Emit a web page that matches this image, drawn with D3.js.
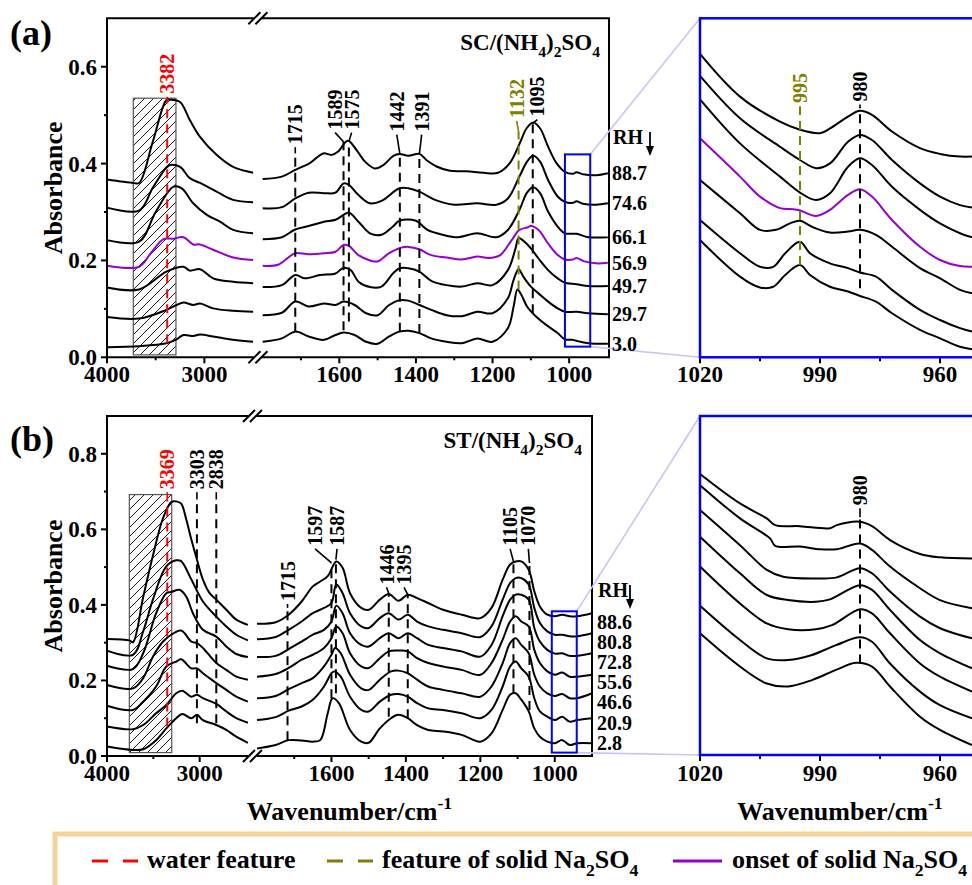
<!DOCTYPE html>
<html>
<head>
<meta charset="utf-8">
<script src="https://cdn.jsdelivr.net/npm/d3@7"></script>
<style>
  body { margin: 0; background: #fff; }
  svg { display: block; font-family: "Liberation Serif", "Times New Roman", serif; font-weight: bold; }
</style>
</head>
<body>
<div id="chart"></div>
<script>

// RH labels, top curve first
var rhA = ["88.7", "74.6", "66.1", "56.9", "49.7", "29.7", "3.0"];
var rhB = ["88.6", "80.8", "72.8", "55.6", "46.6", "20.9", "2.8"];

// panel (a) SC/(NH4)2SO4, 4000-2500 cm-1
var aHigh = [
  [[4000,.367],[3730,.360],[3670,.360],[3530,.445],[3390,.531],[3350,.532],[3250,.527],[3150,.490],[3045,.455],[2875,.418],[2705,.393],[2500,.381]],
  [[4000,.309],[3670,.303],[3530,.350],[3390,.392],[3350,.397],[3250,.393],[3150,.370],[3045,.360],[2875,.342],[2705,.325],[2500,.320]],
  [[4000,.242],[3670,.239],[3500,.300],[3320,.352],[3233,.349],[3115,.318],[2975,.294],[2840,.280],[2705,.263],[2500,.256]],
  [[4000,.189],[3670,.187],[3550,.215],[3420,.244],[3320,.245],[3215,.248],[3115,.233],[3045,.233],[2910,.222],[2705,.206],[2500,.201]],
  [[4000,.144],[3670,.140],[3390,.177],[3215,.187],[3150,.179],[3045,.182],[2910,.163],[2705,.156],[2500,.153]],
  [[4000,.083],[3670,.080],[3390,.098],[3285,.108],[3215,.113],[3115,.108],[3045,.111],[2910,.101],[2705,.096],[2500,.094]],
  [[4000,.021],[3670,.023],[3390,.029],[3285,.037],[3215,.046],[3115,.044],[3045,.047],[2910,.043],[2705,.036],[2500,.032]]
];

// panel (a), 1800-900 cm-1
var aLow = [
  [[1800,.368],[1750,.373],[1715,.387],[1677,.401],[1642,.421],[1620,.418],[1603,.425],[1578,.447],[1555,.428],[1533,.404],[1507,.390],[1485,.397],[1459,.416],[1443,.420],[1420,.416],[1391,.420],[1372,.407],[1346,.394],[1311,.385],[1268,.384],[1224,.381],[1186,.381],[1155,.401],[1129,.442],[1111,.473],[1094,.485],[1076,.473],[1055,.435],[1033,.401],[1011,.383],[990,.379],[981,.382],[964,.378],[929,.376],[899,.380]],
  [[1800,.308],[1750,.310],[1715,.328],[1680,.340],[1640,.339],[1610,.340],[1589,.359],[1575,.356],[1550,.335],[1520,.318],[1490,.323],[1443,.349],[1420,.349],[1391,.342],[1350,.325],[1300,.315],[1240,.318],[1190,.315],[1160,.328],[1130,.373],[1110,.404],[1094,.416],[1076,.404],[1055,.366],[1030,.332],[1011,.321],[990,.319],[981,.322],[964,.317],[930,.315],[899,.318]],
  [[1800,.244],[1750,.248],[1715,.264],[1680,.271],[1640,.280],[1610,.284],[1589,.294],[1575,.299],[1550,.280],[1520,.256],[1490,.253],[1460,.270],[1443,.282],[1400,.282],[1370,.263],[1330,.253],[1290,.248],[1240,.256],[1190,.248],[1160,.263],[1130,.304],[1110,.340],[1094,.351],[1076,.339],[1055,.301],[1030,.270],[1011,.256],[981,.255],[950,.248],[899,.248]],
  [[1800,.189],[1760,.191],[1730,.208],[1715,.215],[1680,.213],[1640,.215],[1610,.218],[1589,.232],[1575,.230],[1550,.211],[1520,.200],[1500,.198],[1470,.215],[1440,.226],[1420,.228],[1391,.223],[1360,.211],[1320,.206],[1280,.202],[1240,.208],[1210,.205],[1180,.211],[1150,.242],[1130,.263],[1110,.268],[1100,.271],[1080,.263],[1055,.235],[1030,.211],[1011,.202],[990,.202],[981,.205],[960,.198],[930,.194],[899,.195]],
  [[1800,.145],[1750,.149],[1715,.170],[1690,.163],[1650,.170],[1610,.173],[1589,.185],[1570,.180],[1550,.156],[1520,.145],[1490,.146],[1460,.173],[1443,.184],[1420,.184],[1391,.177],[1360,.158],[1320,.149],[1280,.146],[1240,.153],[1200,.149],[1160,.180],[1140,.225],[1132,.246],[1120,.241],[1100,.225],[1080,.204],[1055,.180],[1030,.163],[1011,.154],[981,.151],[950,.147],[899,.147]],
  [[1800,.087],[1750,.092],[1715,.115],[1680,.105],[1640,.111],[1610,.108],[1589,.115],[1560,.108],[1530,.091],[1500,.087],[1470,.108],[1443,.118],[1420,.117],[1391,.108],[1360,.098],[1320,.087],[1280,.085],[1240,.094],[1200,.091],[1160,.122],[1145,.160],[1132,.182],[1120,.167],[1100,.146],[1080,.132],[1055,.115],[1030,.101],[1011,.094],[981,.094],[950,.091],[899,.089]],
  [[1800,.032],[1750,.039],[1715,.053],[1680,.043],[1640,.036],[1610,.046],[1589,.051],[1560,.046],[1530,.032],[1500,.028],[1470,.043],[1443,.053],[1420,.055],[1391,.050],[1360,.039],[1320,.032],[1280,.029],[1240,.039],[1200,.032],[1160,.060],[1145,.105],[1135,.140],[1125,.129],[1110,.105],[1090,.087],[1060,.067],[1030,.050],[1011,.037],[990,.036],[981,.034],[950,.029],[899,.028]]
];

// panel (a) zoom 1020-950 cm-1 (relative scale)
var aZoom = [
  [[1020,.895],[1010,.769],[1000,.695],[995,.671],[990,.661],[987.5,.675],[983,.710],[980,.727],[977,.715],[972,.666],[965,.617],[960,.600],[955,.592],[952,.592]],
  [[1020,.830],[1010,.705],[1000,.621],[995,.582],[991,.558],[987.5,.572],[983,.636],[980,.656],[977,.641],[972,.582],[965,.513],[960,.474],[955,.449],[952,.442]],
  [[1020,.761],[1010,.631],[1000,.533],[995,.486],[991,.464],[987.5,.484],[983,.562],[980,.587],[977,.567],[972,.503],[965,.435],[960,.395],[955,.366],[952,.354]],
  [[1020,.646],[1010,.533],[1005,.474],[1000,.440],[996.7,.437],[995,.433],[991,.417],[987.5,.435],[983,.479],[980,.496],[977,.474],[972,.405],[965,.326],[960,.287],[955,.269],[952,.267]],
  [[1020,.523],[1010,.425],[1005,.376],[1001,.376],[997.5,.395],[995,.403],[992,.385],[987.5,.368],[983,.371],[980,.376],[976,.361],[972,.326],[965,.263],[960,.233],[955,.199],[952,.189]],
  [[1020,.405],[1010,.307],[1005,.267],[1001.7,.267],[998.7,.307],[995,.341],[992.5,.307],[987.5,.277],[983,.263],[980,.250],[976,.238],[972,.199],[965,.140],[960,.110],[955,.086],[952,.076]],
  [[1020,.346],[1010,.238],[1005,.206],[1001.7,.208],[998.7,.243],[995,.272],[992.5,.243],[987.5,.208],[983,.194],[980,.181],[976,.164],[972,.130],[965,.081],[960,.056],[955,.031],[952,.024]]
];

// panel (b) ST/(NH4)2SO4, 4000-2480 cm-1
var bHigh = [
  [[4000,.310],[3760,.306],[3720,.301],[3610,.420],[3505,.530],[3395,.630],[3307,.672],[3253,.674],[3200,.668],[3145,.626],[3090,.573],[3030,.520],[2965,.467],[2893,.431],[2821,.414],[2713,.387],[2605,.361],[2480,.347]],
  [[4000,.279],[3720,.268],[3610,.330],[3505,.414],[3360,.502],[3253,.518],[3200,.516],[3090,.467],[2965,.409],[2821,.369],[2713,.343],[2605,.321],[2480,.306]],
  [[4000,.239],[3720,.230],[3610,.272],[3470,.378],[3360,.431],[3307,.434],[3217,.440],[3145,.422],[3073,.378],[2965,.334],[2821,.316],[2713,.290],[2605,.270],[2480,.262]],
  [[4000,.188],[3720,.179],[3610,.206],[3505,.263],[3395,.303],[3307,.321],[3200,.332],[3090,.303],[3030,.299],[2965,.286],[2821,.246],[2713,.228],[2605,.210],[2480,.202]],
  [[4000,.133],[3720,.122],[3610,.144],[3470,.184],[3360,.237],[3253,.250],[3200,.256],[3090,.232],[3030,.232],[2965,.219],[2821,.193],[2713,.175],[2605,.157],[2480,.144]],
  [[4000,.078],[3720,.071],[3610,.082],[3470,.113],[3360,.135],[3253,.166],[3188,.173],[3090,.157],[3030,.162],[2965,.153],[2821,.138],[2713,.118],[2605,.100],[2480,.088]],
  [[4000,.025],[3720,.016],[3610,.018],[3470,.042],[3360,.073],[3253,.100],[3188,.111],[3090,.100],[3030,.109],[2965,.095],[2821,.082],[2713,.069],[2605,.051],[2480,.035]]
];

// panel (b), 1800-900 cm-1
var bLow = [
  [[1800,.350],[1750,.354],[1715,.374],[1680,.409],[1650,.449],[1630,.462],[1610,.476],[1587,.515],[1570,.498],[1550,.431],[1520,.392],[1500,.387],[1470,.414],[1446,.429],[1420,.411],[1395,.427],[1370,.418],[1340,.405],[1300,.387],[1250,.374],[1200,.365],[1170,.392],[1140,.467],[1120,.507],[1105,.515],[1090,.515],[1070,.493],[1055,.436],[1040,.396],[1020,.374],[1000,.370],[980,.374],[960,.370],[940,.370],[900,.378]],
  [[1800,.309],[1750,.315],[1715,.334],[1680,.356],[1650,.378],[1620,.392],[1600,.405],[1587,.454],[1570,.431],[1550,.378],[1520,.343],[1500,.339],[1470,.365],[1446,.378],[1420,.361],[1395,.374],[1370,.356],[1340,.343],[1300,.334],[1250,.325],[1200,.315],[1170,.343],[1140,.414],[1120,.458],[1105,.471],[1090,.471],[1070,.454],[1055,.392],[1040,.352],[1020,.330],[1000,.321],[980,.321],[960,.317],[940,.317],[900,.325]],
  [[1800,.262],[1750,.265],[1715,.283],[1680,.303],[1650,.321],[1620,.334],[1600,.356],[1587,.398],[1570,.378],[1550,.325],[1520,.294],[1500,.290],[1470,.312],[1446,.325],[1420,.312],[1395,.325],[1370,.312],[1340,.294],[1300,.286],[1250,.277],[1200,.263],[1170,.294],[1140,.370],[1120,.414],[1105,.427],[1090,.427],[1070,.414],[1055,.339],[1040,.303],[1020,.281],[1000,.271],[980,.272],[960,.265],[940,.265],[900,.272]],
  [[1800,.210],[1750,.217],[1715,.233],[1680,.255],[1650,.268],[1620,.286],[1600,.312],[1587,.343],[1570,.325],[1550,.272],[1520,.237],[1500,.233],[1470,.259],[1446,.277],[1420,.279],[1395,.277],[1370,.259],[1340,.246],[1300,.237],[1250,.228],[1200,.215],[1170,.246],[1140,.308],[1120,.356],[1105,.370],[1090,.356],[1070,.343],[1055,.281],[1040,.246],[1020,.224],[1000,.215],[980,.221],[960,.210],[940,.210],[900,.215]],
  [[1800,.153],[1750,.159],[1715,.177],[1680,.193],[1650,.206],[1620,.237],[1600,.268],[1590,.286],[1575,.272],[1550,.215],[1520,.179],[1500,.175],[1470,.202],[1440,.224],[1420,.226],[1395,.219],[1370,.202],[1340,.184],[1300,.175],[1250,.166],[1200,.157],[1170,.184],[1140,.246],[1120,.299],[1105,.312],[1090,.294],[1070,.272],[1055,.215],[1040,.184],[1020,.166],[1000,.159],[980,.164],[960,.153],[940,.153],[900,.166]],
  [[1800,.095],[1750,.103],[1715,.120],[1680,.131],[1650,.149],[1620,.184],[1600,.219],[1592,.224],[1575,.210],[1550,.157],[1520,.122],[1500,.118],[1470,.144],[1440,.162],[1420,.164],[1395,.157],[1370,.140],[1340,.126],[1300,.122],[1250,.113],[1200,.100],[1170,.122],[1140,.184],[1120,.237],[1105,.250],[1090,.232],[1070,.210],[1055,.153],[1040,.118],[1020,.104],[1000,.095],[980,.104],[960,.091],[940,.095],[900,.100]],
  [[1800,.020],[1750,.029],[1715,.042],[1680,.041],[1650,.038],[1630,.042],[1610,.113],[1597,.153],[1580,.140],[1550,.069],[1520,.038],[1500,.035],[1470,.073],[1440,.100],[1420,.109],[1395,.100],[1370,.082],[1340,.069],[1300,.065],[1250,.056],[1200,.038],[1170,.060],[1140,.122],[1120,.162],[1105,.166],[1090,.149],[1070,.118],[1055,.073],[1040,.051],[1020,.038],[1000,.034],[980,.042],[960,.029],[940,.034],[900,.034]]
];

// panel (b) zoom 1020-950 cm-1 (relative scale)
var bZoom = [
  [[1020,.829],[1010,.742],[1003.3,.698],[1001.2,.678],[995,.675],[987.5,.669],[985.8,.678],[980,.688],[977,.675],[972.5,.634],[965,.593],[960,.583],[952,.580]],
  [[1020,.796],[1010,.698],[1002.5,.639],[1001.2,.617],[995,.615],[990,.607],[985.8,.607],[980,.624],[977,.605],[972.5,.556],[965,.492],[960,.457],[952,.433]],
  [[1020,.723],[1010,.619],[1003.3,.546],[999.2,.526],[990,.521],[985.8,.524],[980,.551],[977,.536],[972.5,.482],[965,.408],[960,.374],[952,.344]],
  [[1020,.644],[1010,.536],[1003.3,.472],[998,.457],[991,.452],[987.5,.459],[980,.501],[977,.487],[972.5,.428],[965,.339],[960,.300],[952,.256]],
  [[1020,.556],[1010,.447],[1003.3,.388],[998,.371],[991,.371],[987,.383],[980,.430],[977,.418],[972.5,.359],[965,.270],[960,.231],[952,.187]],
  [[1020,.440],[1010,.339],[1003.3,.285],[998,.280],[992,.295],[986,.324],[980,.347],[977,.334],[972.5,.270],[965,.187],[960,.147],[952,.108]],
  [[1020,.359],[1010,.261],[1003.3,.211],[998,.202],[992,.221],[986,.251],[981,.272],[977,.261],[972.5,.202],[965,.113],[960,.074],[952,.029]]
];

// band markers: at = line position, lab = text, lo/hi = dashed extent, top = label foot, lx = label position
var aMarkHigh = [
  {at: 3382, lab: "3382", lo: .029, hi: .531, top: .540, col: "red"}
];
var aMarkLow = [
  {at: 1715, lab: "1715", lo: .053, hi: .421, top: .436, col: "black"},
  {at: 1589, lab: "1589", lo: .056, hi: .445, top: .466, lx: 1611, col: "black"},
  {at: 1575, lab: "1575", lo: .074, hi: .445, top: .466, lx: 1568, col: "black"},
  {at: 1442, lab: "1442", lo: .053, hi: .420, top: .462, lx: 1450, col: "black"},
  {at: 1391, lab: "1391", lo: .050, hi: .420, top: .462, lx: 1385, col: "black"},
  {at: 1132, lab: "1132", lo: .140, hi: .466, top: .490, lx: 1137, col: "olive"},
  {at: 1095, lab: "1095", lo: .091, hi: .483, top: .493, lx: 1083, col: "black"}
];
var aMarkZoom = [
  {at: 995, lab: "995", lo: .272, hi: .739, top: .744, col: "olive"},
  {at: 980, lab: "980", lo: .204, hi: .739, top: .749, col: "black"}
];
var bMarkHigh = [
  {at: 3350, lab: "3369", lo: .078, hi: .679, top: .701, col: "red"},
  {at: 3030, lab: "3303", lo: .087, hi: .679, top: .701, col: "black"},
  {at: 2821, lab: "2838", lo: .087, hi: .679, top: .701, col: "black"}
];
var bMarkLow = [
  {at: 1718, lab: "1715", lo: .042, hi: .392, top: .405, col: "black"},
  {at: 1600, lab: "1597", lo: .153, hi: .511, top: .551, lx: 1644, col: "black"},
  {at: 1588, lab: "1587", lo: .166, hi: .520, top: .551, lx: 1585, col: "black"},
  {at: 1446, lab: "1446", lo: .104, hi: .431, top: .449, lx: 1452, col: "black"},
  {at: 1395, lab: "1395", lo: .100, hi: .427, top: .449, lx: 1405, col: "black"},
  {at: 1111, lab: "1105", lo: .166, hi: .515, top: .551, lx: 1120, col: "black"},
  {at: 1068, lab: "1070", lo: .122, hi: .511, top: .551, lx: 1071, col: "black"}
];
var bMarkZoom = [
  {at: 980, lab: "980", lo: .270, hi: .701, top: .731, col: "black"}
];

var colors = {red: "#ff0000", olive: "#808000", black: "#000000", purple: "#9400d3", blue: "#0000ff"};

var svg = d3.select("#chart").append("svg")
    .attr("width", 972)
    .attr("height", 885);

// hatch pattern for the water region
var pat = svg.append("defs").append("pattern")
    .attr("id", "hatch")
    .attr("patternUnits", "userSpaceOnUse")
    .attr("width", 9).attr("height", 9);
pat.append("path")
    .attr("d", "M0,9L9,0M-2,2L2,-2M7,11L11,7")
    .attr("stroke", "#000").attr("stroke-width", 0.9);

// text with sub/superscripts
function rich(g, x, y, parts, size, anchor) {
  var t = g.append("text").attr("x", x).attr("y", y)
      .attr("font-size", size).attr("text-anchor", anchor || "start");
  var shift = 0;
  parts.forEach(function(p) {
    var target = p[1] === "sub" ? size * 0.3 : p[1] === "sup" ? -size * 0.42 : 0;
    t.append("tspan")
        .attr("dy", target - shift)
        .attr("font-size", p[1] ? size * 0.68 : size)
        .text(p[0]);
    shift = target;
  });
  return t;
}

function drawMarks(g, x, y, marks) {
  marks.forEach(function(m) {
    var X = x(m.at), LX = x(m.lx === undefined ? m.at : m.lx);
    g.append("line")
        .attr("x1", X).attr("x2", X)
        .attr("y1", y(m.lo)).attr("y2", y(m.hi))
        .attr("stroke", colors[m.col]).attr("stroke-width", 2)
        .attr("stroke-dasharray", "9,6");
    g.append("line")
        .attr("x1", X).attr("x2", LX)
        .attr("y1", y(m.hi)).attr("y2", y(m.top) + 1)
        .attr("stroke", colors[m.col]).attr("stroke-width", 1.6);
    g.append("text")
        .attr("transform", "translate(" + LX + "," + (y(m.top) - 2) + ") rotate(-90)")
        .attr("dy", "0.35em")
        .attr("font-size", 20)
        .attr("fill", colors[m.col])
        .text(m.lab);
  });
}

function drawPanel(c) {
  var g = svg.append("g");
  var line = function(x, y) {
    return d3.line()
        .x(function(d) { return x(d[0]); })
        .y(function(d) { return y(d[1]); })
        .curve(d3.curveCatmullRom.alpha(0.5));
  };
  var y = c.y;
  var bot = y(0), top = y(c.yMax);
  var left = c.x1.range()[0], right = c.x2.range()[1];
  var brk = (c.x1.range()[1] + c.x2.range()[0]) / 2;

  // hatched box
  g.append("rect")
      .attr("x", c.x1(c.hatch[0]))
      .attr("y", y(c.hatch[3]))
      .attr("width", c.x1(c.hatch[1]) - c.x1(c.hatch[0]))
      .attr("height", y(c.hatch[2]) - y(c.hatch[3]))
      .attr("fill", "url(#hatch)")
      .attr("stroke", "#555").attr("stroke-width", 1.2);

  // spectra
  [[c.high, c.x1, y], [c.low, c.x2, y], [c.zoom, c.xz, c.yz]].forEach(function(s) {
    g.selectAll(null).data(s[0]).enter().append("path")
        .attr("d", line(s[1], s[2]))
        .attr("fill", "none")
        .attr("stroke", function(d, i) { return i === c.purple ? colors.purple : "#000"; })
        .attr("stroke-width", 2);
  });

  drawMarks(g, c.x1, y, c.mHigh);
  drawMarks(g, c.x2, y, c.mLow);
  drawMarks(g, c.xz, c.yz, c.mZoom);

  // frame with axis break
  var fr = g.append("g").attr("stroke", "#000").attr("stroke-width", 2).attr("fill", "none");
  fr.append("line").attr("x1", left).attr("x2", left).attr("y1", top).attr("y2", bot);
  fr.append("line").attr("x1", right).attr("x2", right).attr("y1", top).attr("y2", bot);
  [top, bot].forEach(function(yy) {
    fr.append("line").attr("x1", left - 1).attr("x2", brk - 4).attr("y1", yy).attr("y2", yy);
    fr.append("line").attr("x1", brk + 4).attr("x2", right + 1).attr("y1", yy).attr("y2", yy);
    [-3.5, 3.5].forEach(function(o) {
      fr.append("line")
          .attr("x1", brk + o - 6).attr("y1", yy + 6)
          .attr("x2", brk + o + 6).attr("y2", yy - 6);
    });
  });

  // y axis
  c.yTicks.forEach(function(t) {
    fr.append("line").attr("x1", left - 6).attr("x2", left).attr("y1", y(t)).attr("y2", y(t));
    g.append("text").attr("x", left - 10).attr("y", y(t)).attr("dy", "0.35em")
        .attr("text-anchor", "end").attr("font-size", 23).text(d3.format(".1f")(t));
  });
  c.yMinor.forEach(function(t) {
    fr.append("line").attr("x1", left - 3).attr("x2", left).attr("y1", y(t)).attr("y2", y(t));
  });

  // x axes
  [[c.x1, [4000, 3000], [3500]], [c.x2, [1600, 1400, 1200, 1000], [1700, 1500, 1300, 1100]]].forEach(function(a) {
    a[1].forEach(function(t) {
      fr.append("line").attr("x1", a[0](t)).attr("x2", a[0](t)).attr("y1", bot).attr("y2", bot + 6);
      g.append("text").attr("x", a[0](t)).attr("y", bot + 25)
          .attr("text-anchor", "middle").attr("font-size", 23).text(t);
    });
    a[2].forEach(function(t) {
      fr.append("line").attr("x1", a[0](t)).attr("x2", a[0](t)).attr("y1", bot).attr("y2", bot + 3);
    });
  });

  // zoom window, connectors and inset
  var bx0 = c.x2(c.box[0]), bx1 = c.x2(c.box[1]);
  var zt = c.yz(1), zb = c.yz(0), zl = c.xz.range()[0];
  g.append("line").attr("x1", bx1).attr("y1", y(c.box[3])).attr("x2", zl).attr("y2", zt)
      .attr("stroke", "#c6c6f6").attr("stroke-width", 1.6);
  g.append("line").attr("x1", bx1).attr("y1", y(c.box[2])).attr("x2", zl).attr("y2", zb)
      .attr("stroke", "#c6c6f6").attr("stroke-width", 1.6);
  g.append("rect").attr("x", bx0).attr("y", y(c.box[3]))
      .attr("width", bx1 - bx0).attr("height", y(c.box[2]) - y(c.box[3]))
      .attr("fill", "none").attr("stroke", colors.blue).attr("stroke-width", 2);
  g.append("rect").attr("x", zl).attr("y", zt)
      .attr("width", 320).attr("height", zb - zt)
      .attr("fill", "none").attr("stroke", colors.blue).attr("stroke-width", 2.5);
  [1020, 990, 960].forEach(function(t) {
    fr.append("line").attr("x1", c.xz(t)).attr("x2", c.xz(t)).attr("y1", zb + 1).attr("y2", zb + 6);
    g.append("text").attr("x", c.xz(t)).attr("y", bot + 25)
        .attr("text-anchor", "middle").attr("font-size", 23).text(t);
  });
  [1005, 975].forEach(function(t) {
    fr.append("line").attr("x1", c.xz(t)).attr("x2", c.xz(t)).attr("y1", zb + 1).attr("y2", zb + 4);
  });

  // RH labels
  g.append("text").attr("x", c.rhX + 1).attr("y", c.rhHead).attr("font-size", 20).text("RH");
  var ax = c.rhX + (c.rhX > 605 ? 38 : 33);
  g.append("line").attr("x1", ax).attr("x2", ax).attr("y1", c.rhHead - 12).attr("y2", c.rhHead + 5)
      .attr("stroke", "#000").attr("stroke-width", 1.8);
  g.append("path")
      .attr("d", "M" + (ax - 4) + "," + (c.rhHead + 2) + "L" + (ax + 4) + "," + (c.rhHead + 2) + "L" + ax + "," + (c.rhHead + 12) + "Z")
      .attr("fill", "#000");
  c.rh.forEach(function(r, i) {
    g.append("text").attr("x", c.rhX).attr("y", c.rhY(i)).attr("dy", "0.35em")
        .attr("font-size", 20).text(r);
  });

  // titles
  g.append("text").attr("x", 10).attr("y", c.tagY).attr("font-size", 36).text(c.tag);
  g.append("text")
      .attr("transform", "translate(62," + ((top + bot) / 2) + ") rotate(-90)")
      .attr("text-anchor", "middle").attr("font-size", 26).text("Absorbance");
  rich(g, c.titleX, top + 32, c.title, 23, "end");
}

// panel (a)
var yA = d3.scaleLinear().domain([0, 0.7]).range([357.3, 18.3]);
var yAz = d3.scaleLinear().domain([0, 1]).range([357.3, 18.3]);
drawPanel({
  y: yA, yMax: 0.7, yTicks: [0, 0.2, 0.4, 0.6], yMinor: [0.1, 0.3, 0.5],
  x1: d3.scaleLinear().domain([4000, 2500]).range([107, 253.1]),
  x2: d3.scaleLinear().domain([1800, 896]).range([262.7, 609]),
  xz: d3.scaleLinear().domain([1020, 950]).range([700, 980]),
  yz: yAz,
  high: aHigh, low: aLow, zoom: aZoom, purple: 3,
  mHigh: aMarkHigh, mLow: aMarkLow, mZoom: aMarkZoom,
  hatch: [3730, 3292, 0.005, 0.535],
  box: [1011, 945, 0.022, 0.419],
  rh: rhA, rhX: 612, rhHead: 144,
  rhY: function(i) { var d = aLow[i]; return yA(d[d.length - 1][1]); },
  tag: "(a)", tagY: 45, titleX: 600,
  title: [["SC/(NH"], ["4", "sub"], [")"], ["2", "sub"], ["SO"], ["4", "sub"]]
});

// panel (b)
var yB = d3.scaleLinear().domain([0, 0.9]).range([756, 416]);
drawPanel({
  y: yB, yMax: 0.9, yTicks: [0, 0.2, 0.4, 0.6, 0.8], yMinor: [0.1, 0.3, 0.5, 0.7],
  x1: d3.scaleLinear().domain([4000, 2480]).range([107, 247.9]),
  x2: d3.scaleLinear().domain([1800, 900]).range([257, 592]),
  xz: d3.scaleLinear().domain([1020, 950]).range([700, 980]),
  yz: d3.scaleLinear().domain([0, 1]).range([755, 416]),
  high: bHigh, low: bLow, zoom: bZoom, purple: -1,
  mHigh: bMarkHigh, mLow: bMarkLow, mZoom: bMarkZoom,
  hatch: [3759, 3302, 0.009, 0.692],
  box: [1008, 941, 0.009, 0.383],
  rh: rhB, rhX: 597, rhHead: 597,
  rhY: function(i) { return 622 + i * 20.1; },
  tag: "(b)", tagY: 451, titleX: 582,
  title: [["ST/(NH"], ["4", "sub"], [")"], ["2", "sub"], ["SO"], ["4", "sub"]]
});

// x axis titles
[349.5, 840].forEach(function(cx) {
  rich(svg, cx, 820, [["Wavenumber/cm"], ["-1", "sup"]], 26, "middle");
});

// legend
var lg = svg.append("g");
lg.append("rect").attr("x", 55).attr("y", 834).attr("width", 960).attr("height", 80)
    .attr("fill", "#fff").attr("stroke", "#f2d596").attr("stroke-width", 5);
var legendItems = [
  {x: 92, col: colors.red, dash: "16,15", parts: [["water feature"]]},
  {x: 327, col: colors.olive, dash: "16,15", parts: [["feature of solid Na"], ["2", "sub"], ["SO"], ["4", "sub"]]},
  {x: 673, col: colors.purple, dash: null, parts: [["onset of solid Na"], ["2", "sub"], ["SO"], ["4", "sub"]]}
];
legendItems.forEach(function(it) {
  lg.append("line").attr("x1", it.x).attr("x2", it.x + (it.dash ? 46 : 49))
      .attr("y1", 861).attr("y2", 861)
      .attr("stroke", it.col).attr("stroke-width", 3)
      .attr("stroke-dasharray", it.dash);
  rich(lg, it.x + (it.dash ? 55 : 59), 868, it.parts, 26, "start");
});

</script>
</body>
</html>
